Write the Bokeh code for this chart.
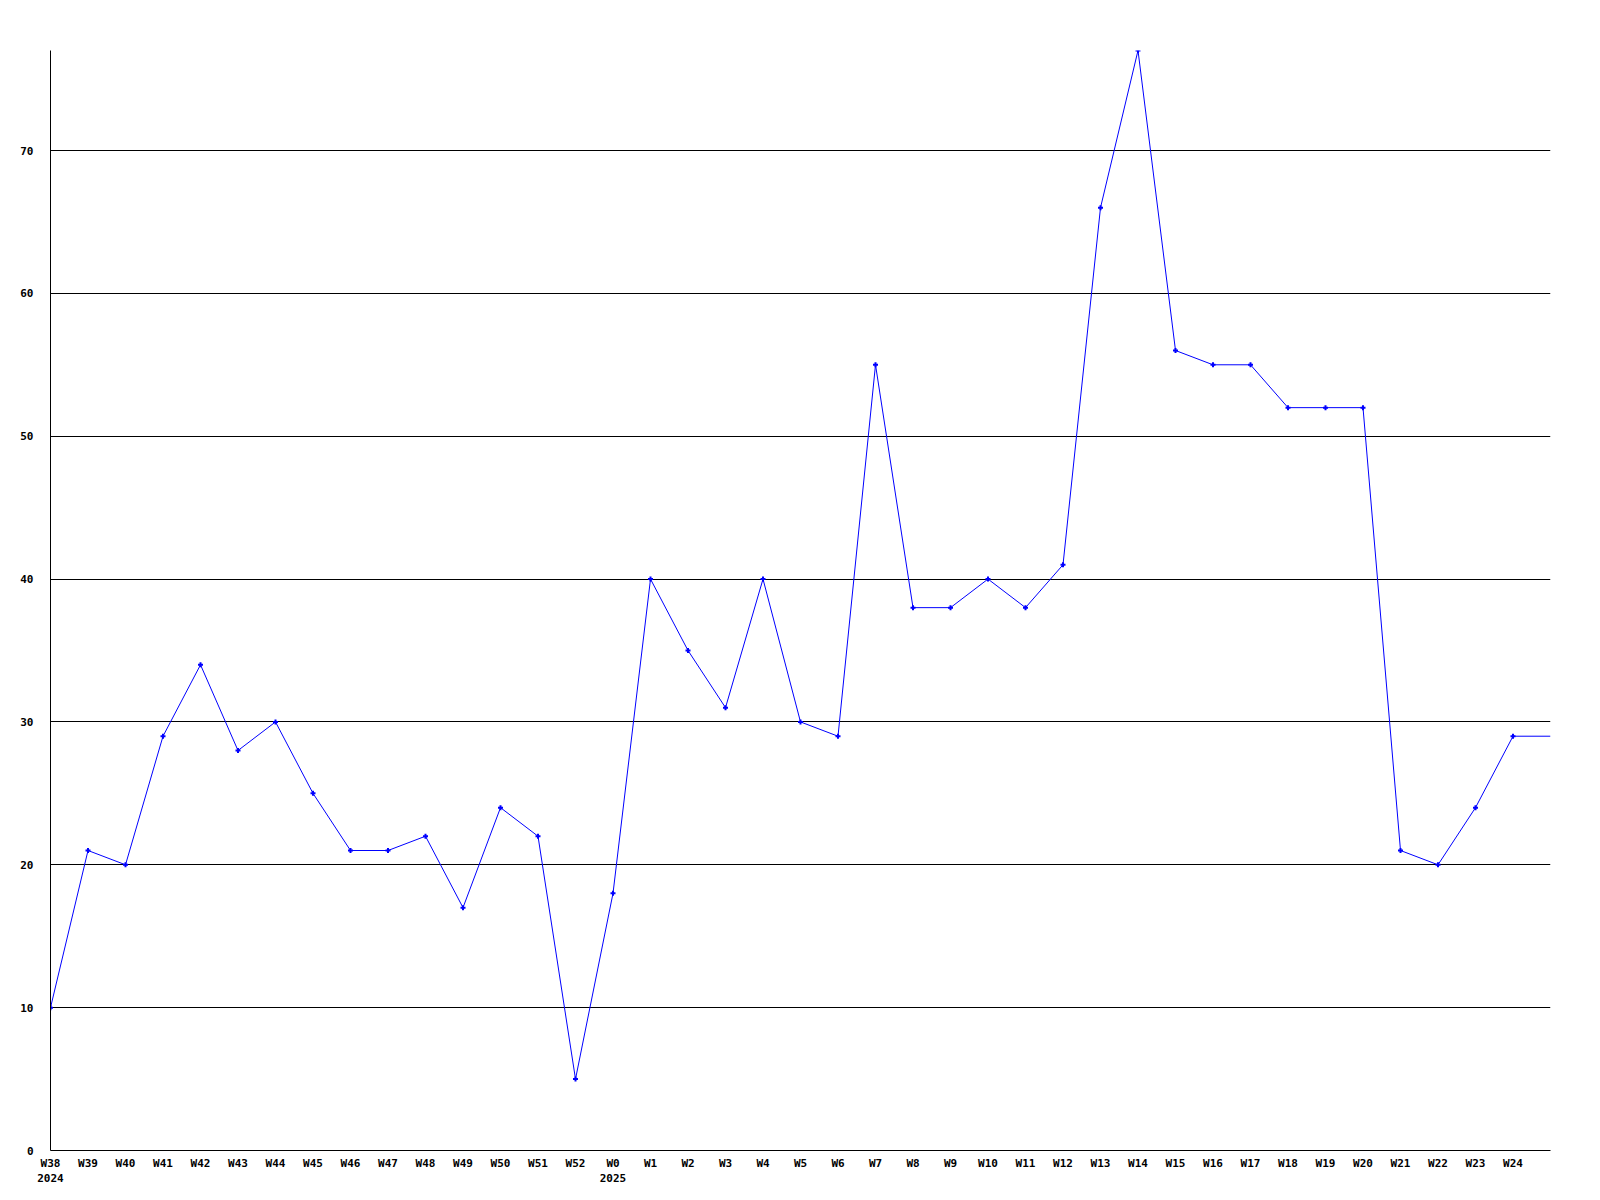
from bokeh.plotting import figure
from bokeh.models import FixedTicker, Range1d
from bokeh.embed import file_html
from bokeh.resources import INLINE

weeks = ["W38", "W39", "W40", "W41", "W42", "W43", "W44", "W45", "W46", "W47",
         "W48", "W49", "W50", "W51", "W52", "W0", "W1", "W2", "W3", "W4",
         "W5", "W6", "W7", "W8", "W9", "W10", "W11", "W12", "W13", "W14",
         "W15", "W16", "W17", "W18", "W19", "W20", "W21", "W22", "W23", "W24"]
values = [10, 21, 20, 29, 34, 28, 30, 25, 21, 21,
          22, 17, 24, 22, 5, 18, 40, 35, 31, 40,
          30, 29, 55, 38, 38, 40, 38, 41, 66, 77,
          56, 55, 55, 52, 52, 52, 21, 20, 24, 29]
# the line carries the last value on to the right edge (one more week, no marker)
line_values = values + [29]
years = ["2024", "2025"]
year_weeks = ["W38", "W0"]
y_ticks = [0, 10, 20, 30, 40, 50, 60, 70]

xs = list(range(len(weeks)))
line_xs = list(range(len(line_values)))

FONT = "DejaVu Sans Mono"

p = figure(width=1584, height=1192, output_backend="svg", toolbar_location=None,
           x_range=Range1d(0, len(line_values) - 1), y_range=Range1d(0, max(values)),
           min_border_left=50, min_border_top=50, min_border_right=34, min_border_bottom=42)
p.outline_line_color = None
p.background_fill_color = "white"

p.line(line_xs, line_values, line_color="#0000ff", line_width=1)
p.scatter(xs, values, marker="cross", size=5, line_color="#0000ff", line_width=2)

p.xgrid.grid_line_color = None
p.ygrid.grid_line_color = "black"
p.ygrid.grid_line_width = 1
p.ygrid.ticker = FixedTicker(ticks=y_ticks[1:])

p.yaxis.ticker = FixedTicker(ticks=y_ticks)
p.yaxis.major_tick_line_color = None
p.yaxis.minor_tick_line_color = None
p.yaxis.major_tick_out = 0
p.yaxis.major_tick_in = 0
p.yaxis.major_label_standoff = 17
p.yaxis.axis_line_color = "black"

overrides = {i: w for i, w in enumerate(weeks)}
for yr, wk in zip(years, year_weeks):
    overrides[weeks.index(wk)] = wk + "\n" + yr

p.xaxis.ticker = FixedTicker(ticks=xs)
p.xaxis.major_label_overrides = overrides
p.xaxis.major_tick_line_color = None
p.xaxis.minor_tick_line_color = None
p.xaxis.major_tick_out = 0
p.xaxis.major_tick_in = 0
p.xaxis.major_label_standoff = 6
p.xaxis.axis_line_color = "black"

for ax in (p.xaxis, p.yaxis):
    ax.major_label_text_font = FONT
    ax.major_label_text_font_style = "bold"
    ax.major_label_text_font_size = "11px"
    ax.major_label_text_color = "black"
p.xaxis.major_label_text_line_height = 1.2

open("out.html", "w").write(file_html(p, INLINE))
